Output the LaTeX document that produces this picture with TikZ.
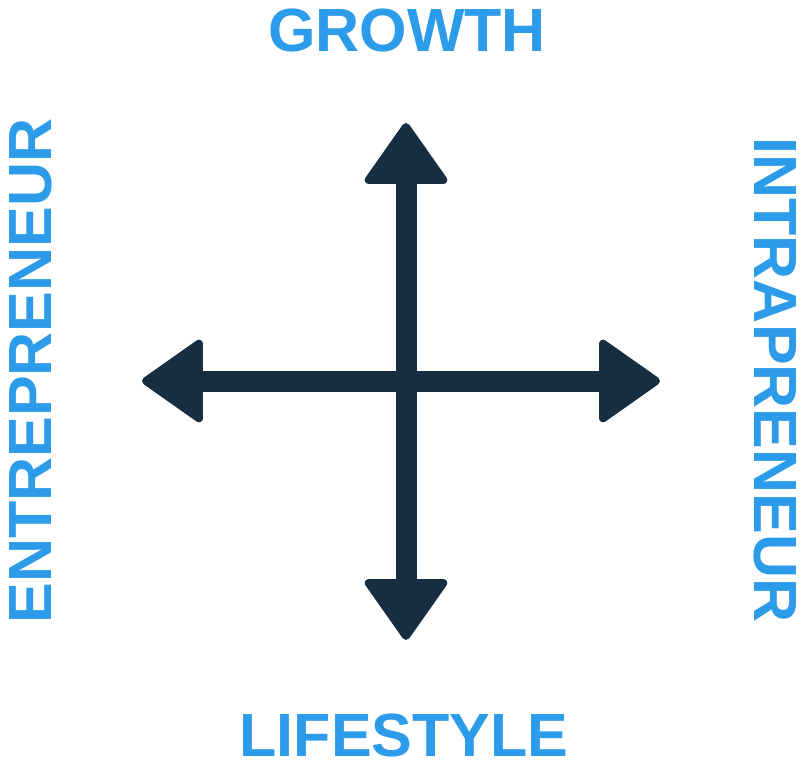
\documentclass[tikz,border=0pt]{standalone}
\usepackage{fontspec}
\setmainfont{Liberation Sans}
\usetikzlibrary{arrows.meta}
\definecolor{axisnavy}{HTML}{172D42}
\definecolor{labelblue}{HTML}{2B9BEA}
\begin{document}
\begin{tikzpicture}[x=1pt, y=-1pt]
    % Define Styles
        \tikzset{
            axis/.style = {
                draw = axisnavy,
                line width = 21pt,
                {Triangle[length=64pt, width=88pt, line width'=8pt, round]}-{Triangle[length=64pt, width=88pt, line width'=8pt, round]}
            },
            label/.style = {
                text = labelblue,
                inner sep = 0pt,
                anchor = base,
                font = \fontsize{61}{61}\selectfont\bfseries
            }
        }
        \useasboundingbox (0,0) rectangle (800,762);
    % Place coordinates
        \coordinate (centre) at (406,381);
        \coordinate (up) at (406,123);
        \coordinate (down) at (406,640);
        \coordinate (left) at (142,381);
        \coordinate (right) at (660,381);
    % Place labels
        \node [label] (growth) at (407,52) {GROWTH};
        \node [label] (lifestyle) at (404,756) {LIFESTYLE};
        \node [label, rotate=90] (entrepreneur) at (51,371) {ENTREPRENEUR};
        \node [label, rotate=-90] (intrapreneur) at (754,380) {INTRAPRENEUR};
    % Draw axes
        \path [axis] (down) -- (up);
        \path [axis] (left) -- (right);
\end{tikzpicture}
\end{document}
